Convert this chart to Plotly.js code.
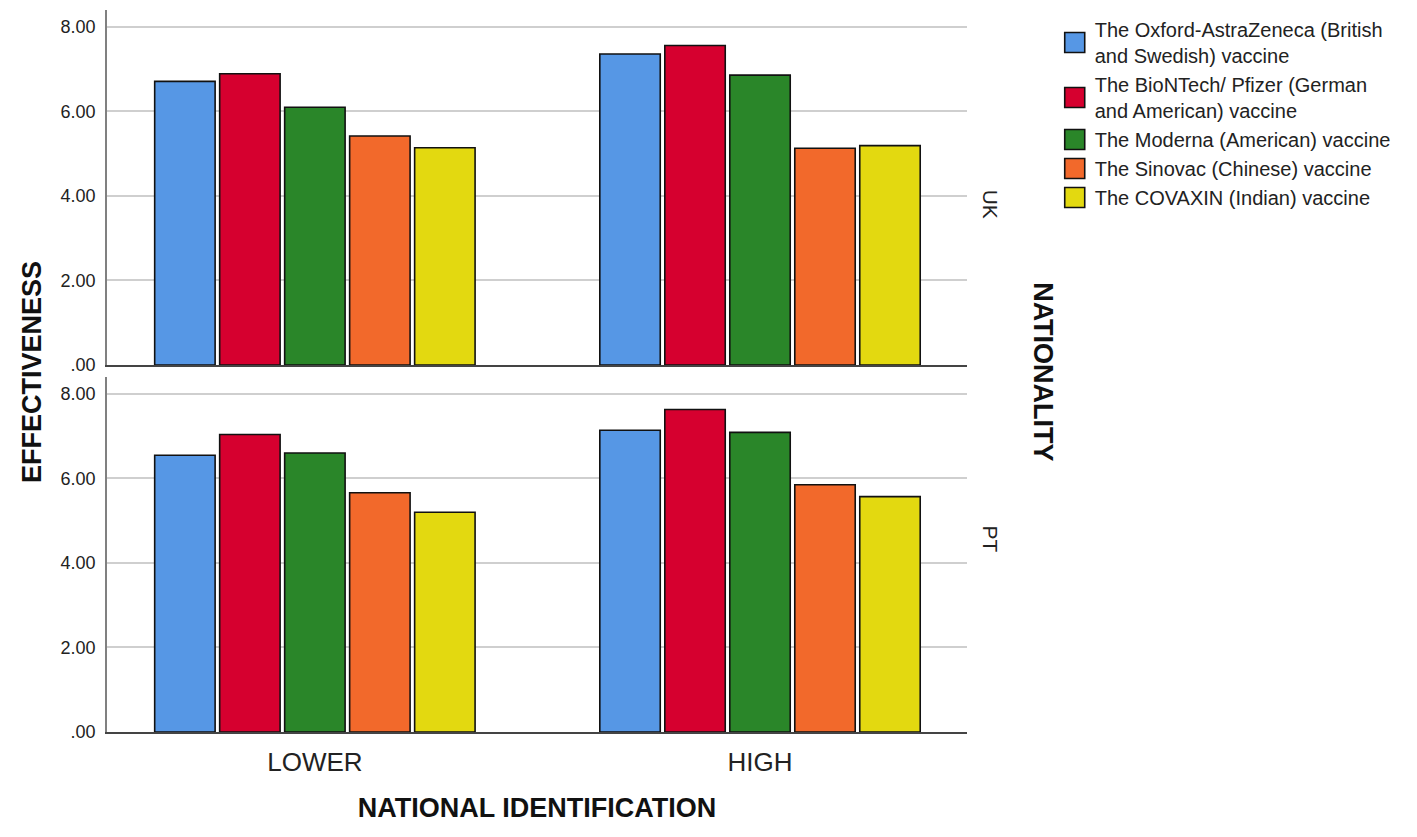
<!DOCTYPE html>
<html>
<head>
<meta charset="utf-8">
<script src="https://cdn.plot.ly/plotly-3.0.1.min.js"></script>
<style>
  html, body { margin: 0; padding: 0; background: #fff; }
  #chart { width: 1417px; height: 837px; }
</style>
</head>
<body>
<div id="chart"></div>
<script>
// national identification groups on the x axis
var identification = ['LOWER', 'HIGH'];

var vaccines = [
    'The Oxford-AstraZeneca (British<br>and Swedish) vaccine',
    'The BioNTech/ Pfizer (German<br>and American) vaccine',
    'The Moderna (American) vaccine',
    'The Sinovac (Chinese) vaccine',
    'The COVAXIN (Indian) vaccine'
];
var colors = ['#5697E5', '#D6002F', '#2A8629', '#F2692B', '#E3D910'];

// mean effectiveness, one array per vaccine: [LOWER, HIGH]
var ukOxford   = [6.71, 7.36];
var ukPfizer   = [6.89, 7.56];
var ukModerna  = [6.10, 6.86];
var ukSinovac  = [5.42, 5.13];
var ukCovaxin  = [5.14, 5.19];

var ptOxford   = [6.55, 7.14];
var ptPfizer   = [7.04, 7.63];
var ptModerna  = [6.60, 7.09];
var ptSinovac  = [5.66, 5.85];
var ptCovaxin  = [5.20, 5.57];

var ukValues = [ukOxford, ukPfizer, ukModerna, ukSinovac, ukCovaxin];
var ptValues = [ptOxford, ptPfizer, ptModerna, ptSinovac, ptCovaxin];

var yTicks = [0, 2, 4, 6, 8];
var yTickText = ['.00', '2.00', '4.00', '6.00', '8.00'];

var FONT = '"Liberation Sans", Arial, sans-serif';

var data = [];
for (var i = 0; i < vaccines.length; i++) {
    data.push({
        type: 'bar', x: identification, y: ukValues[i], name: vaccines[i],
        xaxis: 'x2', yaxis: 'y', legendgroup: 'v' + i,
        marker: { color: colors[i], line: { color: '#111', width: 1.6 } },
        hoverinfo: 'y+name'
    });
}
for (var j = 0; j < vaccines.length; j++) {
    data.push({
        type: 'bar', x: identification, y: ptValues[j], name: vaccines[j],
        xaxis: 'x', yaxis: 'y2', legendgroup: 'v' + j, showlegend: false,
        marker: { color: colors[j], line: { color: '#111', width: 1.6 } },
        hoverinfo: 'y+name'
    });
}

function yAxis(domain, anchor) {
    return {
        domain: domain, anchor: anchor, range: [0, 8.4], fixedrange: true,
        tickvals: yTicks, ticktext: yTickText, ticks: '',
        tickfont: { family: FONT, size: 18, color: '#222' },
        ticklabelstandoff: 6,
        showgrid: true, gridcolor: '#cfcfcf', gridwidth: 2,
        showline: true, linecolor: '#808080', linewidth: 1.5,
        zeroline: false
    };
}

var layout = {
    width: 1417, height: 837,
    paper_bgcolor: '#fff', plot_bgcolor: '#fff',
    margin: { l: 107, r: 450, t: 10, b: 105 },
    barmode: 'group', bargap: 0.27, bargroupgap: 0.07,
    font: { family: FONT, color: '#222' },
    xaxis: {
        anchor: 'y2', domain: [0, 1], range: [-0.467, 1.465],
        showline: true, linecolor: '#444', linewidth: 1.5, ticks: '',
        tickfont: { family: FONT, size: 26, color: '#222' },
        ticklabelstandoff: 6,
        title: { text: 'NATIONAL IDENTIFICATION', standoff: 22,
                 font: { family: FONT, size: 27, color: '#111', weight: 'bold' } }
    },
    xaxis2: {
        anchor: 'y', domain: [0, 1], matches: 'x', range: [-0.467, 1.465],
        showline: true, linecolor: '#444', linewidth: 1.5, ticks: '',
        showticklabels: false
    },
    yaxis: yAxis([0.5083, 1], 'x2'),
    yaxis2: yAxis([0, 0.4917], 'x'),
    showlegend: true,
    legend: {
        x: 1.102, y: 1.0, xanchor: 'left', yanchor: 'top',
        font: { family: FONT, size: 20, color: '#222' },
        tracegroupgap: 0, itemclick: false, itemdoubleclick: false
    },
    annotations: [
        { text: 'EFFECTIVENESS', xref: 'paper', yref: 'paper', x: -0.107, y: 0.4986,
          textangle: -90, showarrow: false,
          font: { family: FONT, size: 27, color: '#111', weight: 'bold' } },
        { text: 'NATIONALITY', xref: 'paper', yref: 'paper', x: 1.108, y: 0.4986,
          textangle: 90, showarrow: false,
          font: { family: FONT, size: 27, color: '#111', weight: 'bold' } },
        { text: 'UK', xref: 'paper', yref: 'paper', x: 1.043, y: 0.754,
          textangle: 90, showarrow: false,
          font: { family: FONT, size: 21, color: '#222' } },
        { text: 'PT', xref: 'paper', yref: 'paper', x: 1.043, y: 0.246,
          textangle: 90, showarrow: false,
          font: { family: FONT, size: 21, color: '#222' } }
    ]
};

Plotly.newPlot('chart', data, layout, { displayModeBar: false }).then(function (gd) {
    // SPSS draws bigger legend swatches than plotly's default 12px squares
    var swatches = gd.querySelectorAll('.legend .legendpoints path');
    for (var k = 0; k < swatches.length; k++) {
        swatches[k].setAttribute('d', 'M10,10H-10V-10H10Z');
    }
});
</script>
</body>
</html>
